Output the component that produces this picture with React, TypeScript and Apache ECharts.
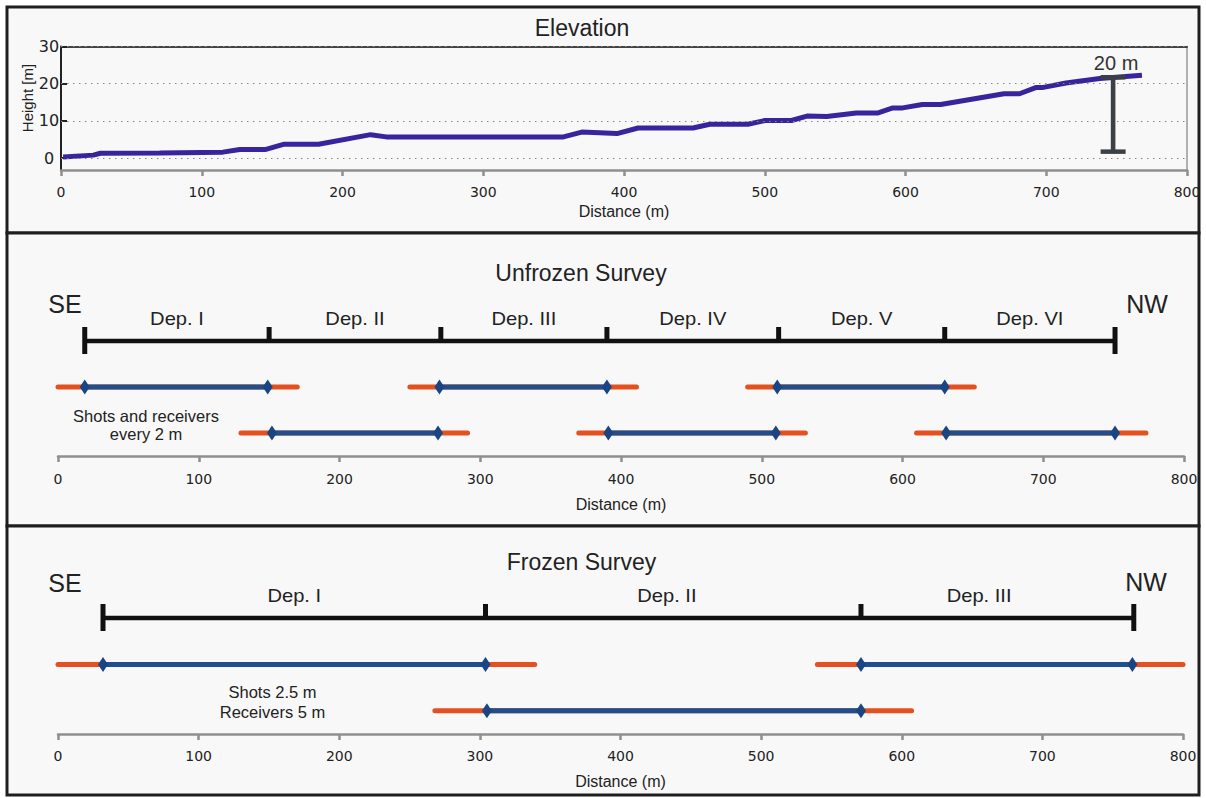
import React, { useEffect, useRef } from "react";
import * as echarts from "echarts";

// ---------- Data ----------
const elevDistance = [1.5, 23, 28, 70, 115, 127, 145, 158, 183, 220, 231, 357, 370, 395, 410, 449, 461, 488, 500, 519, 530, 544, 565, 580, 591, 598, 612, 625, 670, 681, 693, 698, 714, 738, 768];
const elevHeight = [0.3, 0.8, 1.3, 1.4, 1.6, 2.3, 2.3, 3.7, 3.7, 6.3, 5.7, 5.7, 7.0, 6.6, 8.1, 8.1, 9.1, 9.1, 10.1, 10.1, 11.3, 11.2, 12.1, 12.1, 13.5, 13.5, 14.4, 14.4, 17.3, 17.3, 19.0, 19.0, 20.2, 21.4, 22.3];
const elevGridValues = [0, 10, 20, 30];
const scaleBarDistance = 747.5;
const scaleBarFrom = 1.8;
const scaleBarLength = 20;
const scaleBarText = "20 m";

// deployment boundaries (m)
const unfrozenBounds = [19, 150, 272, 390, 512, 630, 751];
const unfrozenLabels = ["Dep. I", "Dep. II", "Dep. III", "Dep. IV", "Dep. V", "Dep. VI"];
// spreads: [shot start, receiver start, receiver end, shot end]
const unfrozenRow1 = [
  [0, 19, 149, 170],
  [250, 271, 390, 411],
  [490, 511, 630, 651],
];
const unfrozenRow2 = [
  [130, 152, 270, 291],
  [370, 391, 510, 531],
  [610, 631, 751, 773],
];

const frozenBounds = [32, 304, 571, 765];
const frozenLabels = ["Dep. I", "Dep. II", "Dep. III"];
const frozenLabelAt = [168, 433, 655];
const frozenRow1 = [
  [0, 32, 304, 339],
  [540, 571, 764, 800],
];
const frozenRow2 = [[268, 305, 571, 607]];

// ---------- Styling ----------
const SANS = "'Liberation Sans', Arial, sans-serif";
const TICKFONT = "'DejaVu Sans', sans-serif";
const TEXT = "#222";
const ORANGE = "#e4501f";
const BLUE = "#1f4f8e";
const DIAMOND = "#1a4584";
const ELEV = "#3a249e";
const AXISGREY = "#8f8f8f";

const DEP_LEVEL = 5;
const ROW1_LEVEL = 3;
const ROW2_LEVEL = 1;

function deploymentSeries(axisIdx: number, bounds: number[], labels: string[], labelAt?: number[]) {
  return {
    type: "custom",
    xAxisIndex: axisIdx,
    yAxisIndex: axisIdx,
    clip: false,
    silent: true,
    z: 5,
    data: [[bounds[0], DEP_LEVEL]],
    renderItem: (_params: any, api: any) => {
      const pts = bounds.map((b) => api.coord([b, DEP_LEVEL]));
      const y = pts[0][1];
      const children: any[] = [];
      children.push({
        type: "line",
        shape: { x1: pts[0][0], y1: y, x2: pts[pts.length - 1][0], y2: y },
        style: { stroke: "#111", lineWidth: 4.5 },
      });
      pts.forEach((p: number[], i: number) => {
        const end = i === 0 || i === pts.length - 1;
        children.push({
          type: "line",
          shape: { x1: p[0], y1: y - 14, x2: p[0], y2: end ? y + 13 : y },
          style: { stroke: "#111", lineWidth: 5 },
        });
      });
      labels.forEach((t, i) => {
        const lx = labelAt ? labelAt[i] : (bounds[i] + bounds[i + 1]) / 2;
        const c = api.coord([lx, DEP_LEVEL]);
        children.push({
          type: "text",
          x: c[0],
          y: c[1] - 22,
          scaleX: 1.15,
          style: {
            text: t,
            fill: TEXT,
            fontSize: 17.5,
            fontFamily: SANS,
            align: "center",
            verticalAlign: "middle",
            textAlign: "center",
            textVerticalAlign: "middle",
          },
        });
      });
      return { type: "group", children };
    },
  };
}

function spreadSeries(axisIdx: number, spreads: number[][], level: number) {
  const out: any[] = [];
  spreads.forEach((s) => {
    out.push({
      type: "line",
      xAxisIndex: axisIdx,
      yAxisIndex: axisIdx,
      data: [
        [s[0], level],
        [s[3], level],
      ],
      symbol: "none",
      silent: true,
      z: 3,
      lineStyle: { color: ORANGE, width: 5, cap: "round" },
    });
  });
  spreads.forEach((s) => {
    out.push({
      type: "line",
      xAxisIndex: axisIdx,
      yAxisIndex: axisIdx,
      data: [
        [s[1], level],
        [s[2], level],
      ],
      symbol: "diamond",
      symbolSize: [10, 15],
      showSymbol: true,
      silent: true,
      z: 4,
      itemStyle: { color: DIAMOND },
      lineStyle: { color: BLUE, width: 5 },
    });
  });
  return out;
}

function surveyXAxis(gridIndex: number, labelMargin: number, nameGap: number) {
  return {
    gridIndex,
    type: "value",
    min: 0,
    max: 800,
    interval: 100,
    name: "Distance (m)",
    nameLocation: "middle",
    nameGap,
    nameTextStyle: { fontSize: 16, color: TEXT, fontFamily: SANS },
    axisLine: { show: true, onZero: false, lineStyle: { color: AXISGREY, width: 2.5 } },
    axisTick: { show: true, length: 6, lineStyle: { color: AXISGREY, width: 2.5 } },
    axisLabel: { margin: labelMargin, fontSize: 14, color: TEXT, fontFamily: TICKFONT },
    splitLine: { show: false },
  };
}

function surveyYAxis(gridIndex: number) {
  return { gridIndex, type: "value", min: 0, max: 5, show: false };
}

function txt(text: string, x: number, y: number, fontSize: number, extra: any = {}) {
  return {
    type: "text",
    x,
    y,
    z: 20,
    ...extra,
    style: {
      text,
      fill: TEXT,
      fontSize,
      fontFamily: SANS,
      align: "center",
      verticalAlign: "middle",
      textAlign: "center",
      textVerticalAlign: "middle",
    },
  };
}

export default function App() {
  const ref = useRef<HTMLDivElement>(null);
  useEffect(() => {
    if (!ref.current) return;
    const chart = echarts.init(ref.current, undefined, { renderer: "svg" });

    const elevData = elevDistance.map((d, i) => [d, elevHeight[i]]);

    const option: any = {
      animation: false,
      backgroundColor: "#ffffff",
      graphic: [
        { type: "rect", z: -10, shape: { x: 7, y: 7, width: 1192, height: 226 }, style: { fill: "#f8f8f8", stroke: "#1e1e1e", lineWidth: 3 } },
        { type: "rect", z: -10, shape: { x: 7, y: 233, width: 1192, height: 293 }, style: { fill: "#f8f8f8", stroke: "#1e1e1e", lineWidth: 3 } },
        { type: "rect", z: -10, shape: { x: 7, y: 526, width: 1192, height: 269 }, style: { fill: "#f8f8f8", stroke: "#1e1e1e", lineWidth: 3 } },
        txt("Elevation", 582, 28, 23),
        txt("Height [m]", 27, 98, 15, { rotation: Math.PI / 2 }),
        txt("Unfrozen Survey", 581, 273, 23),
        txt("Frozen Survey", 581.5, 561.5, 23),
        txt("SE", 65, 304, 25),
        txt("NW", 1147, 304, 25),
        txt("SE", 65, 582.5, 25),
        txt("NW", 1146, 582, 25),
        txt("Shots and receivers", 146, 416, 16.5),
        txt("every 2 m", 146, 434, 16.5),
        txt("Shots 2.5 m", 272.5, 691.5, 16.5),
        txt("Receivers 5 m", 272.5, 711.5, 16.5),
      ],
      grid: [
        { left: 61, top: 46.5, width: 1126, height: 123.5 },
        { left: 58, top: 341, width: 1126, height: 115 },
        { left: 58, top: 618, width: 1125, height: 116 },
      ],
      xAxis: [
        {
          gridIndex: 0,
          type: "value",
          min: 0,
          max: 800,
          interval: 100,
          name: "Distance (m)",
          nameLocation: "middle",
          nameGap: 33,
          nameTextStyle: { fontSize: 16, color: TEXT, fontFamily: SANS },
          axisLine: { show: true, onZero: false, lineStyle: { color: AXISGREY, width: 2.5 } },
          axisTick: { show: true, length: 6, lineStyle: { color: AXISGREY, width: 2.5 } },
          axisLabel: { margin: 15, fontSize: 14, color: TEXT, fontFamily: TICKFONT },
          splitLine: { show: false },
        },
        {
          gridIndex: 0,
          type: "value",
          position: "top",
          min: 0,
          max: 800,
          axisLine: { show: true, onZero: false, lineStyle: { color: "#444", width: 2 } },
          axisTick: { show: false },
          axisLabel: { show: false },
          splitLine: { show: false },
        },
        surveyXAxis(1, 16, 40),
        surveyXAxis(2, 15, 39),
      ],
      yAxis: [
        {
          gridIndex: 0,
          type: "value",
          min: -3.2,
          max: 30,
          position: "left",
          axisLine: { show: true, onZero: false, lineStyle: { color: "#222", width: 2 } },
          axisTick: { show: true, inside: true, length: 6, customValues: elevGridValues, lineStyle: { color: "#222", width: 2 } },
          axisLabel: { customValues: elevGridValues, align: "center", margin: 12, fontSize: 16, color: TEXT, fontFamily: TICKFONT },
          splitLine: { show: false },
        },
        {
          gridIndex: 0,
          type: "value",
          min: -3.2,
          max: 30,
          position: "right",
          axisLine: { show: true, onZero: false, lineStyle: { color: "#999", width: 1.5 } },
          axisTick: { show: false },
          axisLabel: { show: false },
          splitLine: { show: false },
        },
        surveyYAxis(1),
        surveyYAxis(2),
      ],
      series: [
        {
          type: "line",
          xAxisIndex: 0,
          yAxisIndex: 0,
          data: elevData,
          symbol: "none",
          silent: true,
          z: 3,
          lineStyle: { color: ELEV, width: 5 },
          markLine: {
            silent: true,
            symbol: ["none", "none"],
            label: { show: false },
            lineStyle: { type: [1.5, 4.5], color: "#888", width: 1 },
            data: elevGridValues.map((v) => ({ yAxis: v })),
          },
        },
        {
          type: "custom",
          xAxisIndex: 0,
          yAxisIndex: 0,
          clip: false,
          silent: true,
          z: 6,
          data: [[scaleBarDistance, scaleBarFrom, scaleBarFrom + scaleBarLength]],
          renderItem: (_p: any, api: any) => {
            const top = api.coord([api.value(0), api.value(2)]);
            const bot = api.coord([api.value(0), api.value(1)]);
            const cx = top[0];
            const col = "#3b4045";
            return {
              type: "group",
              children: [
                { type: "rect", shape: { x: cx - 2.3, y: top[1], width: 4.6, height: bot[1] - top[1] }, style: { fill: col } },
                { type: "rect", shape: { x: cx - 12.5, y: top[1] - 2, width: 25, height: 4.5 }, style: { fill: col } },
                { type: "rect", shape: { x: cx - 12.5, y: bot[1] - 2, width: 25, height: 4.5 }, style: { fill: col } },
                {
                  type: "text",
                  x: cx + 3,
                  y: top[1] - 14,
                  style: {
                    text: scaleBarText,
                    fill: "#333",
                    fontSize: 20,
                    fontFamily: SANS,
                    align: "center",
                    verticalAlign: "middle",
                    textAlign: "center",
                    textVerticalAlign: "middle",
                  },
                },
              ],
            };
          },
        },
        deploymentSeries(2, unfrozenBounds, unfrozenLabels),
        ...spreadSeries(2, unfrozenRow1, ROW1_LEVEL),
        ...spreadSeries(2, unfrozenRow2, ROW2_LEVEL),
        deploymentSeries(3, frozenBounds, frozenLabels, frozenLabelAt),
        ...spreadSeries(3, frozenRow1, ROW1_LEVEL),
        ...spreadSeries(3, frozenRow2, ROW2_LEVEL),
      ],
    };

    chart.setOption(option);
    return () => chart.dispose();
  }, []);

  return <div ref={ref} style={{ position: "absolute", left: 0, top: 0, width: 1206, height: 798 }} />;
}
